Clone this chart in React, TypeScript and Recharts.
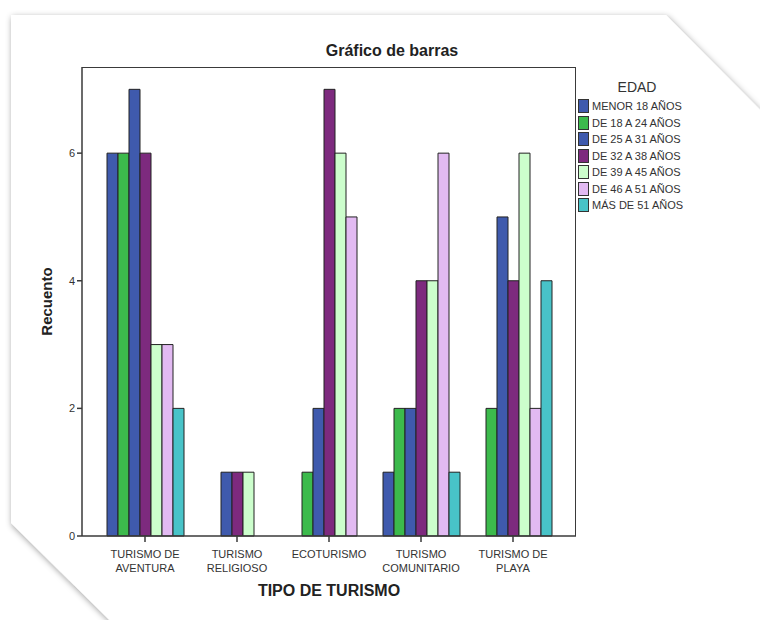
import { Bar, BarChart, XAxis, YAxis } from "recharts";

const categorias = [
  "TURISMO DE\nAVENTURA",
  "TURISMO\nRELIGIOSO",
  "ECOTURISMO",
  "TURISMO\nCOMUNITARIO",
  "TURISMO DE\nPLAYA",
];

const menor18 = [6, 0, 0, 1, 0];
const de18a24 = [6, 0, 1, 2, 2];
const de25a31 = [7, 1, 2, 2, 5];
const de32a38 = [6, 1, 7, 4, 4];
const de39a45 = [3, 1, 6, 4, 6];
const de46a51 = [3, 0, 5, 6, 2];
const mas51 = [2, 0, 0, 1, 4];

const yTicks = [0, 2, 4, 6];

const series = [
  { key: "menor18", name: "MENOR 18 AÑOS", values: menor18, color: "#3f5aad" },
  { key: "de18a24", name: "DE 18 A 24 AÑOS", values: de18a24, color: "#3cba4c" },
  { key: "de25a31", name: "DE 25 A 31 AÑOS", values: de25a31, color: "#3f5aad" },
  { key: "de32a38", name: "DE 32 A 38 AÑOS", values: de32a38, color: "#7d2a7e" },
  { key: "de39a45", name: "DE 39 A 45 AÑOS", values: de39a45, color: "#ccfecc" },
  { key: "de46a51", name: "DE 46 A 51 AÑOS", values: de46a51, color: "#e2baf2" },
  { key: "mas51", name: "MÁS DE 51 AÑOS", values: mas51, color: "#48c3c8" },
];

const data = categorias.map((c, i) => {
  const row: Record<string, string | number> = { tipo: c };
  series.forEach((s) => (row[s.key] = s.values[i]));
  return row;
});

const FONT = "'Liberation Sans', Arial, sans-serif";
const AXIS = "#3a3a3a";
const W = 760;
const H = 620;
const M = { top: 67, right: 184, bottom: 44, left: 62 };
const Y_WIDTH = 20;
const X_HEIGHT = 40;

function CategoryTick({ x, y, payload }: any) {
  const lines = String(payload.value).split("\n");
  return (
    <text x={x} y={y + 14} textAnchor="middle" fontSize={11} fill="#333" fontFamily={FONT}>
      {lines.map((l, i) => (
        <tspan key={i} x={x} dy={i === 0 ? 0 : 14}>
          {l}
        </tspan>
      ))}
    </text>
  );
}

function EdadLegend() {
  return (
    <div style={{ position: "absolute", left: 578, top: 79, fontFamily: FONT, color: "#333" }}>
      <div style={{ fontSize: 14, textAlign: "center", width: 118, marginBottom: 3 }}>EDAD</div>
      {series.map((s) => (
        <div key={s.key} style={{ display: "flex", alignItems: "center", height: 16.5, fontSize: 11 }}>
          <span
            style={{
              width: 9,
              height: 12,
              background: s.color,
              border: "1px solid #333",
              marginRight: 3,
              display: "inline-block",
            }}
          />
          {s.name}
        </div>
      ))}
    </div>
  );
}

export default function App() {
  const plotLeft = M.left + Y_WIDTH;
  const plotRight = W - M.right;
  const plotBottom = H - M.bottom - X_HEIGHT;
  return (
    <div style={{ position: "absolute", left: 0, top: 0, width: W, height: H, background: "#fff", overflow: "hidden" }}>
      <svg width={W} height={H} style={{ position: "absolute", left: 0, top: 0 }}>
        <defs>
          <filter id="sombra" x="-10%" y="-10%" width="120%" height="120%">
            <feDropShadow dx="1" dy="2" stdDeviation="3" floodColor="#000" floodOpacity="0.4" />
          </filter>
        </defs>
        <polygon points="11,15 666,15 790,140 790,660 150,660 11,523" fill="#fff" filter="url(#sombra)" />
      </svg>
      <div
        style={{
          position: "absolute",
          left: 0,
          top: 42,
          width: 784,
          textAlign: "center",
          fontFamily: FONT,
          fontWeight: "bold",
          fontSize: 16,
          color: "#222",
        }}
      >
        Gráfico de barras
      </div>
      <div style={{ position: "absolute", left: 0, top: 0 }}>
        <BarChart width={W} height={H} data={data} margin={M} barCategoryGap={8} barGap={0}>
          <XAxis
            dataKey="tipo"
            padding={{ left: 17, right: 17 }}
            height={X_HEIGHT}
            tick={<CategoryTick />}
            tickSize={6}
            interval={0}
            stroke={AXIS}
            strokeWidth={1.5}
            label={{
              value: "TIPO DE TURISMO",
              position: "bottom",
              offset: 9,
              style: { fontFamily: FONT, fontWeight: "bold", fontSize: 16, fill: "#222" },
            }}
          />
          <YAxis
            width={Y_WIDTH}
            domain={[0, 7.35]}
            ticks={yTicks}
            tickSize={5}
            stroke={AXIS}
            strokeWidth={1.5}
            tick={{ fontSize: 11, fill: "#333", fontFamily: FONT }}
            label={{
              value: "Recuento",
              angle: -90,
              position: "insideLeft",
              offset: -15,
              style: { textAnchor: "middle", fontFamily: FONT, fontWeight: "bold", fontSize: 15, fill: "#222" },
            }}
          />
          {series.map((s) => (
            <Bar
              key={s.key}
              dataKey={s.key}
              name={s.name}
              fill={s.color}
              stroke="#222"
              strokeWidth={1}
              isAnimationActive={false}
            />
          ))}
        </BarChart>
      </div>
      {/* marco del área de trazado */}
      <div
        style={{
          position: "absolute",
          left: plotLeft,
          top: M.top,
          width: plotRight - plotLeft,
          height: plotBottom - M.top,
          borderTop: `1.5px solid ${AXIS}`,
          borderRight: `1.5px solid ${AXIS}`,
          boxSizing: "border-box",
          pointerEvents: "none",
        }}
      />
      <EdadLegend />
    </div>
  );
}
